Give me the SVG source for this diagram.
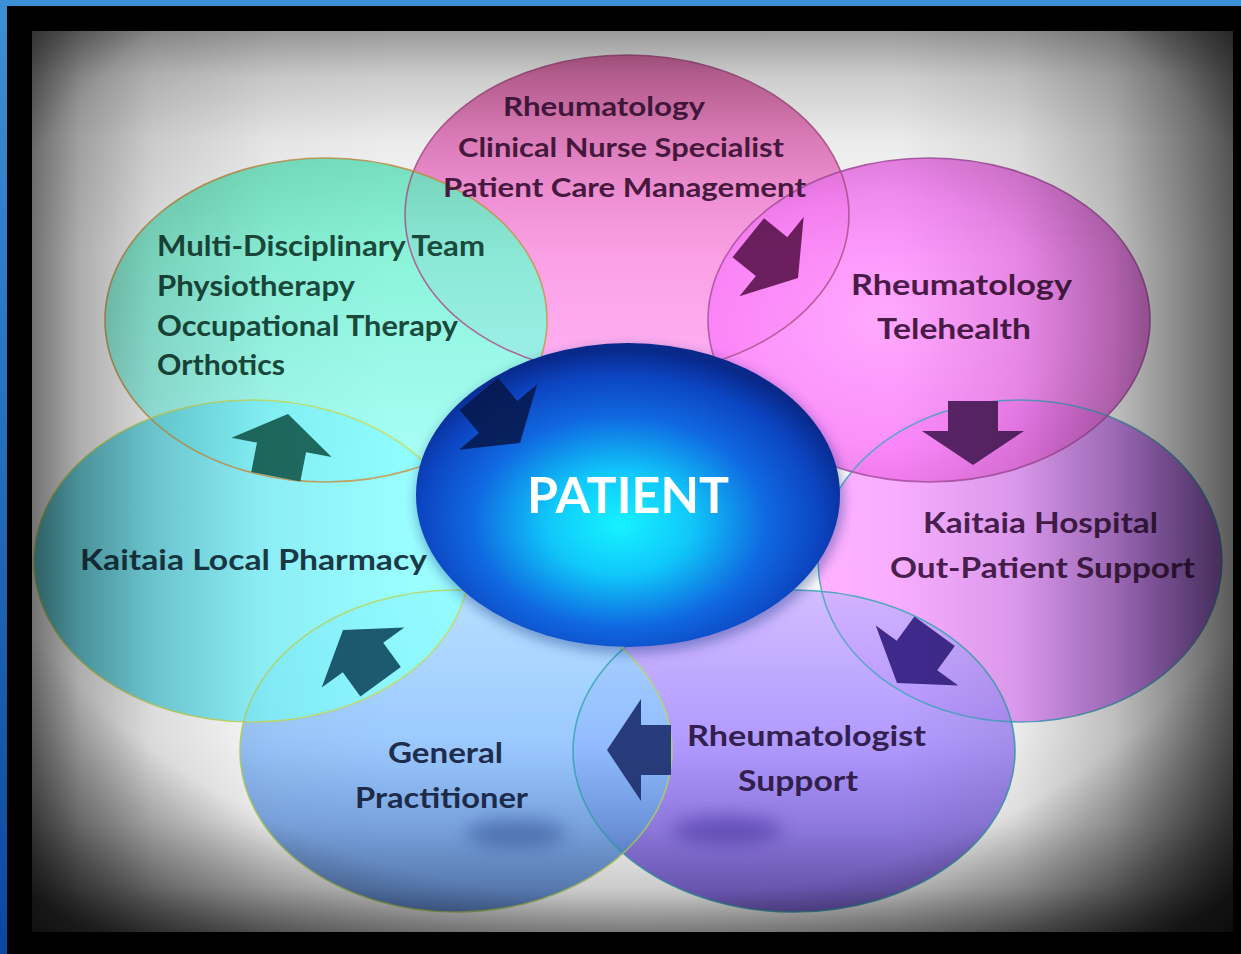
<svg xmlns="http://www.w3.org/2000/svg" width="1241" height="954" viewBox="0 0 1241 954">
<style>
.lbl{font-family:Lato,"Open Sans","Liberation Sans",sans-serif;font-weight:700}
.edge{fill:none;stroke-width:1.6;stroke-opacity:0.85}
.blob{fill-opacity:0.88}
</style>
<defs>
<linearGradient id="gTop" x1="0" y1="0" x2="0" y2="1"><stop offset="0" stop-color="#d85a9e"/><stop offset="0.45" stop-color="#f888d8"/><stop offset="1" stop-color="#ffa8f2"/></linearGradient>
<linearGradient id="gMdt" x1="0" y1="0" x2="0" y2="1"><stop offset="0" stop-color="#6cecc4"/><stop offset="1" stop-color="#a0fff8"/></linearGradient>
<radialGradient id="gTele" cx="0.4" cy="0.5" r="0.65"><stop offset="0" stop-color="#ff9cff"/><stop offset="0.6" stop-color="#fa80f8"/><stop offset="1" stop-color="#dc64d4"/></radialGradient>
<linearGradient id="gHosp" x1="0" y1="0" x2="1" y2="0"><stop offset="0" stop-color="#ffa8ff"/><stop offset="0.5" stop-color="#ea98ff"/><stop offset="1" stop-color="#a860e4"/></linearGradient>
<linearGradient id="gRheu" x1="0" y1="0" x2="0" y2="1"><stop offset="0" stop-color="#ccb4ff"/><stop offset="0.5" stop-color="#a48aff"/><stop offset="1" stop-color="#6a50d0"/></linearGradient>
<linearGradient id="gGp" x1="0" y1="0" x2="0" y2="1"><stop offset="0" stop-color="#acdcff"/><stop offset="0.5" stop-color="#8cc0ff"/><stop offset="1" stop-color="#5080d0"/></linearGradient>
<linearGradient id="gPh" x1="0" y1="0" x2="1" y2="0"><stop offset="0" stop-color="#50c8d8"/><stop offset="0.5" stop-color="#80f4fc"/><stop offset="1" stop-color="#90ffff"/></linearGradient>
<radialGradient id="gPat" cx="0.48" cy="0.58" r="0.56" fx="0.48" fy="0.6"><stop offset="0" stop-color="#16f2ff"/><stop offset="0.3" stop-color="#10c8fa"/><stop offset="0.62" stop-color="#1068e0"/><stop offset="0.85" stop-color="#0c44c0"/><stop offset="1" stop-color="#08288a"/></radialGradient>
<linearGradient id="vH" x1="0" y1="0" x2="1" y2="0"><stop offset="0" stop-color="#000" stop-opacity="0.55"/><stop offset="0.04" stop-color="#000" stop-opacity="0.32"/><stop offset="0.1" stop-color="#000" stop-opacity="0.14"/><stop offset="0.2" stop-color="#000" stop-opacity="0.03"/><stop offset="0.3" stop-color="#000" stop-opacity="0"/><stop offset="0.72" stop-color="#000" stop-opacity="0"/><stop offset="0.82" stop-color="#000" stop-opacity="0.08"/><stop offset="0.9" stop-color="#000" stop-opacity="0.25"/><stop offset="0.96" stop-color="#000" stop-opacity="0.48"/><stop offset="1" stop-color="#000" stop-opacity="0.65"/></linearGradient>
<linearGradient id="vV" x1="0" y1="0" x2="0" y2="1"><stop offset="0" stop-color="#000" stop-opacity="0.4"/><stop offset="0.05" stop-color="#000" stop-opacity="0.2"/><stop offset="0.12" stop-color="#000" stop-opacity="0.08"/><stop offset="0.25" stop-color="#000" stop-opacity="0"/><stop offset="0.78" stop-color="#000" stop-opacity="0"/><stop offset="0.88" stop-color="#000" stop-opacity="0.06"/><stop offset="0.95" stop-color="#000" stop-opacity="0.2"/><stop offset="1" stop-color="#000" stop-opacity="0.45"/></linearGradient>
<radialGradient id="vR" cx="0.5" cy="0.4" r="0.75"><stop offset="0" stop-color="#000" stop-opacity="0"/><stop offset="0.75" stop-color="#000" stop-opacity="0"/><stop offset="0.88" stop-color="#000" stop-opacity="0.35"/><stop offset="1" stop-color="#000" stop-opacity="0.75"/></radialGradient>
<linearGradient id="gBlue" x1="0" y1="0" x2="0" y2="1"><stop offset="0" stop-color="#3d8fd6"/><stop offset="1" stop-color="#0a48a0"/></linearGradient>
<filter id="soft" x="-50%" y="-50%" width="200%" height="200%"><feGaussianBlur stdDeviation="9"/></filter>
<filter id="shadow" x="-20%" y="-20%" width="140%" height="140%"><feGaussianBlur stdDeviation="6"/></filter>
<path id="arr" d="M0,0 L-34,-51 L-34,-25 L-64,-25 L-64,25 L-34,25 L-34,51 Z"/>
</defs>

<rect x="0" y="0" width="1241" height="954" fill="#000"/>
<rect x="32" y="31" width="1201" height="901" fill="#ffffff"/>

<g id="node-nurse">
<ellipse class="blob" cx="627" cy="215" rx="222" ry="160" fill="url(#gTop)"/>
</g>
<g id="node-hospital">
<ellipse class="blob" cx="1020" cy="561" rx="202" ry="161" fill="url(#gHosp)"/>
</g>
<g id="node-telehealth">
<ellipse class="blob" cx="929" cy="320" rx="221" ry="162" fill="url(#gTele)"/>
</g>
<g id="node-mdt">
<ellipse class="blob" cx="326" cy="320" rx="221" ry="162" fill="url(#gMdt)"/>
</g>
<g id="node-rheumatologist">
<ellipse class="blob" cx="794" cy="751" rx="221" ry="161" fill="url(#gRheu)"/>
<ellipse cx="727" cy="830" rx="55" ry="14" fill="#4a32a8" opacity="0.55" filter="url(#soft)"/>
</g>
<g id="node-gp">
<ellipse class="blob" cx="456" cy="751" rx="216" ry="161" fill="url(#gGp)"/>
<ellipse cx="516" cy="833" rx="50" ry="14" fill="#34569e" opacity="0.55" filter="url(#soft)"/>
</g>
<g id="node-pharmacy">
<ellipse class="blob" cx="252" cy="561" rx="218" ry="161" fill="url(#gPh)"/>
</g>

<g id="edges">
<ellipse class="edge" cx="627" cy="215" rx="222" ry="160" stroke="#b0508a"/>
<ellipse class="edge" cx="1020" cy="561" rx="202" ry="161" stroke="#48a4c4"/>
<ellipse class="edge" cx="929" cy="320" rx="221" ry="162" stroke="#a850a0"/>
<ellipse class="edge" cx="326" cy="320" rx="221" ry="162" stroke="#c8964a"/>
<ellipse class="edge" cx="794" cy="751" rx="221" ry="161" stroke="#3aa4b4"/>
<ellipse class="edge" cx="456" cy="751" rx="216" ry="161" stroke="#b4d864"/>
<ellipse class="edge" cx="252" cy="561" rx="218" ry="161" stroke="#c4dc60"/>
</g>

<g id="node-patient">
<ellipse cx="630" cy="500" rx="214" ry="154" fill="#06207a" opacity="0.35" filter="url(#shadow)"/>
<ellipse cx="628" cy="495" rx="212" ry="152" fill="url(#gPat)"/>
<text class="lbl" x="527" y="513" font-size="50" fill="#ffffff" textLength="202" lengthAdjust="spacingAndGlyphs">PATIENT</text>
</g>

<g id="connectors">
<use href="#arr" transform="translate(798,278) rotate(39)" fill="#6b1f5e"/>
<use href="#arr" transform="translate(973,465) rotate(90)" fill="#5a2468"/>
<use href="#arr" transform="translate(897,683) rotate(126)" fill="#3f2a8c"/>
<use href="#arr" transform="translate(607,750) rotate(180)" fill="#283c7c"/>
<use href="#arr" transform="translate(343,630) rotate(234)" fill="#1c5a70"/>
<use href="#arr" transform="translate(288,414) rotate(-79)" fill="#1f6a60"/>
<use href="#arr" transform="translate(520,443) rotate(50)" fill="#061648" fill-opacity="0.85"/>
</g>

<g id="labels">
<g fill="#4a1a42" font-size="26.5" class="lbl">
<text x="503" y="116" textLength="202" lengthAdjust="spacingAndGlyphs">Rheumatology</text>
<text x="458" y="157" textLength="326" lengthAdjust="spacingAndGlyphs">Clinical Nurse Specialist</text>
<text x="443" y="197" textLength="363" lengthAdjust="spacingAndGlyphs">Patient Care Management</text>
</g>
<g fill="#1a4a3c" font-size="28" class="lbl">
<text x="157" y="256" textLength="328" lengthAdjust="spacingAndGlyphs">Multi-Disciplinary Team</text>
<text x="157" y="296" textLength="198" lengthAdjust="spacingAndGlyphs">Physiotherapy</text>
<text x="157" y="336" textLength="301" lengthAdjust="spacingAndGlyphs">Occupational Therapy</text>
<text x="157" y="375" textLength="128" lengthAdjust="spacingAndGlyphs">Orthotics</text>
</g>
<g fill="#4b1b48" font-size="29" class="lbl">
<text x="851" y="295" textLength="221" lengthAdjust="spacingAndGlyphs">Rheumatology</text>
<text x="877" y="339" textLength="154" lengthAdjust="spacingAndGlyphs">Telehealth</text>
</g>
<g fill="#4a1f50" font-size="29" class="lbl">
<text x="923" y="533" textLength="235" lengthAdjust="spacingAndGlyphs">Kaitaia Hospital</text>
<text x="890" y="578" textLength="305" lengthAdjust="spacingAndGlyphs">Out-Patient Support</text>
</g>
<g fill="#33204f" font-size="29" class="lbl">
<text x="687" y="746" textLength="239" lengthAdjust="spacingAndGlyphs">Rheumatologist</text>
<text x="738" y="791" textLength="120" lengthAdjust="spacingAndGlyphs">Support</text>
</g>
<g fill="#1e2d4e" font-size="29" class="lbl">
<text x="388" y="763" textLength="115" lengthAdjust="spacingAndGlyphs">General</text>
<text x="355" y="808" textLength="173" lengthAdjust="spacingAndGlyphs">Practitioner</text>
</g>
<g fill="#1a3a48" font-size="29" class="lbl">
<text x="80" y="570" textLength="347" lengthAdjust="spacingAndGlyphs">Kaitaia Local Pharmacy</text>
</g>
</g>

<rect x="32" y="31" width="1201" height="901" fill="url(#vH)"/>
<rect x="32" y="31" width="1201" height="901" fill="url(#vV)"/>
<rect x="32" y="31" width="1201" height="901" fill="url(#vR)"/>

<rect x="0" y="0" width="1241" height="6" fill="#3d8fd6"/>
<rect x="0" y="0" width="7" height="954" fill="url(#gBlue)"/>
</svg>
